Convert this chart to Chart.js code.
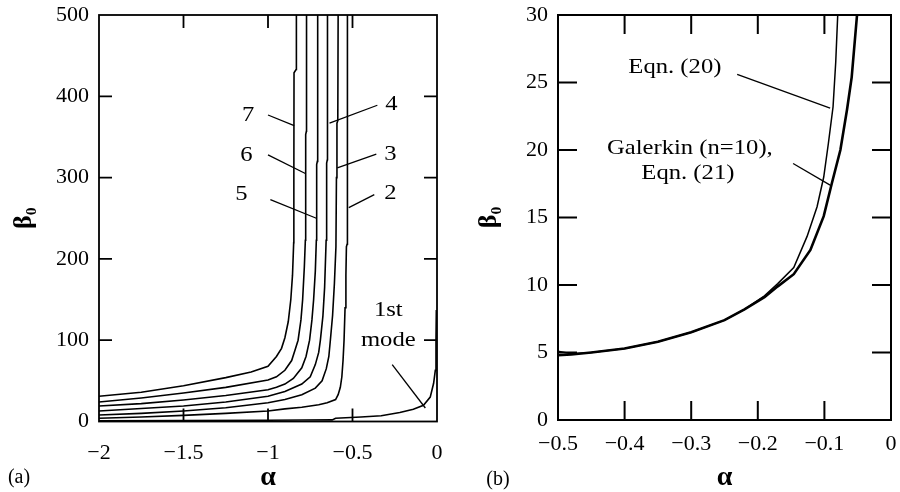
<!DOCTYPE html>
<html>
<head>
<meta charset="utf-8">
<script src="https://cdn.jsdelivr.net/npm/chart.js@4.4.1/dist/chart.umd.min.js"></script>
<style>
  html, body { margin: 0; padding: 0; background: #fff; }
  #wrap { position: relative; width: 900px; height: 492px; overflow: hidden; }
  .panel { position: absolute; top: 0; width: 450px; height: 492px; }
</style>
</head>
<body>
<div id="wrap">
  <div class="panel" style="left:0"><canvas id="panelA" width="450" height="492"></canvas></div>
  <div class="panel" style="left:450px"><canvas id="panelB" width="450" height="492"></canvas></div>
</div>
<script>
// (a) beta0 vs alpha for the first seven modes, [alpha, beta0]
var mode1 = [[-2, 1], [-1.5, 1.2], [-1.0, 1.5], [-0.8, 1.8], [-0.62, 2], [-0.6, 4], [-0.45, 5.5], [-0.33, 7],
  [-0.22, 11], [-0.14, 15], [-0.08, 20], [-0.04, 30], [-0.02, 47], [-0.01, 63], [-0.006, 100], [-0.004, 137]];
var mode2 = [[-2, 4], [-1.75, 5.5], [-1.5, 7.5], [-1.25, 10], [-1.0, 13], [-0.9, 15.5], [-0.8, 17.5], [-0.7, 20.5],
  [-0.65, 23], [-0.6, 27], [-0.585, 33], [-0.572, 42], [-0.563, 55], [-0.556, 75], [-0.55, 100], [-0.544, 140],
  [-0.539, 180], [-0.536, 215], [-0.532, 218], [-0.53, 500]];
var mode3 = [[-2, 8], [-1.75, 10], [-1.5, 13], [-1.25, 17], [-1.0, 23], [-0.9, 27], [-0.8, 33], [-0.72, 41],
  [-0.68, 50], [-0.655, 65], [-0.64, 80], [-0.631, 100], [-0.618, 130], [-0.607, 170], [-0.598, 215],
  [-0.595, 300], [-0.592, 367], [-0.587, 370], [-0.585, 500]];
var mode4 = [[-2, 13], [-1.75, 16], [-1.5, 19], [-1.25, 24], [-1.0, 31], [-0.9, 37], [-0.8, 46], [-0.75, 55],
  [-0.72, 70], [-0.7, 85], [-0.69, 100], [-0.675, 130], [-0.665, 165], [-0.656, 223], [-0.653, 318],
  [-0.649, 322], [-0.648, 500]];
var mode5 = [[-2, 19], [-1.75, 22], [-1.5, 26.5], [-1.25, 32], [-1.0, 39], [-0.95, 42], [-0.9, 46], [-0.85, 53],
  [-0.8, 66], [-0.775, 80], [-0.754, 100], [-0.74, 125], [-0.73, 150], [-0.72, 185], [-0.714, 223],
  [-0.712, 316], [-0.708, 320], [-0.706, 500]];
var mode6 = [[-2, 24], [-1.75, 29], [-1.5, 35], [-1.25, 42], [-1.0, 51], [-0.95, 55], [-0.9, 63], [-0.86, 75],
  [-0.84, 88], [-0.822, 100], [-0.805, 125], [-0.795, 150], [-0.785, 190], [-0.779, 223], [-0.777, 353],
  [-0.773, 357], [-0.772, 500]];
var mode7 = [[-2, 31], [-1.75, 36], [-1.5, 44], [-1.25, 54], [-1.1, 61], [-1.0, 68], [-0.95, 80], [-0.92, 90],
  [-0.9, 103], [-0.88, 123], [-0.865, 150], [-0.855, 180], [-0.848, 220], [-0.847, 300], [-0.846, 429],
  [-0.834, 433], [-0.832, 500]];

// (b) first mode close up: closed form vs Galerkin
var eqn20 = [[-0.5, 5.1], [-0.48, 4.9], [-0.45, 5.0], [-0.4, 5.3], [-0.35, 5.8], [-0.3, 6.5], [-0.25, 7.4],
  [-0.22, 8.2], [-0.19, 9.2], [-0.17, 10.1], [-0.146, 11.3], [-0.126, 13.6], [-0.111, 15.8], [-0.101, 18],
  [-0.094, 20.5], [-0.087, 23.2], [-0.083, 26.5], [-0.08, 30]];
var galerkin = [[-0.5, 4.8], [-0.48, 4.85], [-0.45, 5.0], [-0.4, 5.3], [-0.35, 5.8], [-0.3, 6.5], [-0.25, 7.4],
  [-0.22, 8.2], [-0.19, 9.1], [-0.17, 9.9], [-0.146, 10.8], [-0.121, 12.6], [-0.101, 15.1], [-0.089, 17.5],
  [-0.076, 20], [-0.066, 23], [-0.059, 25.4], [-0.051, 30]];

// tick values
var xTicksA = [-2, -1.5, -1, -0.5, 0];
var yTicksA = [0, 100, 200, 300, 400, 500];
var xTicksB = [-0.5, -0.4, -0.3, -0.2, -0.1, 0];
var yTicksB = [0, 5, 10, 15, 20, 25, 30];

// curve labels with leader lines (data coordinates)
var notesA = [
  { text: '7', at: [-1.117, 377], from: [-1.0, 377], to: [-0.845, 364] },
  { text: '6', at: [-1.128, 328], from: [-1.0, 328], to: [-0.779, 305] },
  { text: '5', at: [-1.158, 280], from: [-0.986, 273], to: [-0.714, 250] },
  { text: '4', at: [-0.27, 390], from: [-0.353, 389], to: [-0.636, 367] },
  { text: '3', at: [-0.276, 329], from: [-0.359, 329], to: [-0.59, 312] },
  { text: '2', at: [-0.276, 281], from: [-0.371, 279], to: [-0.522, 263] },
  { text: '1st', at: [-0.288, 137] },
  { text: 'mode', at: [-0.288, 100], from: [-0.265, 70], to: [-0.069, 16.6] }
];
var notesB = [
  { text: 'Eqn. (20)', at: [-0.3245, 26.1], from: [-0.231, 25.6], to: [-0.0914, 23.1] },
  { text: 'Galerkin (n=10),', at: [-0.302, 20.1] },
  { text: 'Eqn. (21)', at: [-0.305, 18.3], from: [-0.147, 19.0], to: [-0.0914, 17.4] }
];

var SERIF = '"Liberation Serif", "Times New Roman", Times, serif';

function toPoints(arr) {
  return arr.map(function (p) { return { x: p[0], y: p[1] }; });
}

function fmtTick(v) {
  return v === 0 ? '0' : String(v).replace('-', '\u2212');
}

// box around the plot, inward ticks on all sides, curve labels
function makeFrame(cfg) {
  return {
    id: 'frame',
    afterDatasetsDraw: function (chart) {
      var ctx = chart.ctx, a = chart.chartArea;
      var xs = chart.scales.x, ys = chart.scales.y;
      ctx.save();
      ctx.strokeStyle = '#000';
      ctx.lineWidth = cfg.frameWidth;
      ctx.strokeRect(a.left, a.top, a.right - a.left, a.bottom - a.top);

      ctx.beginPath();
      xs.ticks.forEach(function (tk) {
        var px = xs.getPixelForValue(tk.value);
        if (px <= a.left + 1 || px >= a.right - 1) return;
        ctx.moveTo(px, a.bottom); ctx.lineTo(px, a.bottom - cfg.tickLen);
        ctx.moveTo(px, a.top); ctx.lineTo(px, a.top + cfg.tickLen);
      });
      ys.ticks.forEach(function (tk) {
        var py = ys.getPixelForValue(tk.value);
        if (py <= a.top + 1 || py >= a.bottom - 1) return;
        ctx.moveTo(a.left, py); ctx.lineTo(a.left + cfg.tickLen, py);
        ctx.moveTo(a.right, py); ctx.lineTo(a.right - cfg.tickLen, py);
      });
      ctx.stroke();

      ctx.lineWidth = 1.3;
      ctx.fillStyle = '#000';
      ctx.font = cfg.noteSize + 'px ' + SERIF;
      ctx.textAlign = 'center';
      ctx.textBaseline = 'middle';
      cfg.notes.forEach(function (n) {
        if (n.from) {
          ctx.beginPath();
          ctx.moveTo(xs.getPixelForValue(n.from[0]), ys.getPixelForValue(n.from[1]));
          ctx.lineTo(xs.getPixelForValue(n.to[0]), ys.getPixelForValue(n.to[1]));
          ctx.stroke();
        }
        ctx.save();
        ctx.translate(xs.getPixelForValue(n.at[0]), ys.getPixelForValue(n.at[1]));
        ctx.scale(1.12, 1);
        ctx.fillText(n.text, 0, 0);
        ctx.restore();
      });

      ctx.font = '20px ' + SERIF;
      ctx.fillText(cfg.tag, cfg.tagX, cfg.tagY);
      ctx.restore();
    }
  };
}

function makeChart(id, sets, opt) {
  return new Chart(document.getElementById(id), {
    type: 'line',
    data: { datasets: sets },
    options: {
      responsive: false,
      animation: false,
      layout: { padding: { left: 0, top: 15, right: opt.padRight, bottom: 0 } },
      elements: { point: { radius: 0 }, line: { tension: 0 } },
      plugins: { legend: { display: false }, tooltip: { enabled: false } },
      scales: {
        x: {
          type: 'linear', min: opt.xMin, max: opt.xMax,
          afterBuildTicks: function (s) { s.ticks = opt.xTicks.map(function (v) { return { value: v }; }); },
          afterFit: function (s) { s.height = opt.xAxisHeight; s.paddingLeft = 0; s.paddingRight = 0; },
          grid: { display: false, drawTicks: false },
          border: { display: false },
          ticks: { color: '#000', font: { family: SERIF, size: 22 }, padding: opt.xPad,
            maxRotation: 0, autoSkip: false, callback: fmtTick },
          title: { display: true, text: '\u03b1', color: '#000',
            font: { family: SERIF, size: 28, weight: 'bold', lineHeight: 1 }, padding: { top: 0, bottom: 0 } }
        },
        y: {
          type: 'linear', min: opt.yMin, max: opt.yMax,
          afterBuildTicks: function (s) { s.ticks = opt.yTicks.map(function (v) { return { value: v }; }); },
          afterFit: function (s) { s.width = opt.yAxisWidth; s.paddingTop = 0; s.paddingBottom = 0; },
          grid: { display: false, drawTicks: false },
          border: { display: false },
          ticks: { color: '#000', font: { family: SERIF, size: 22 }, padding: 10, autoSkip: false, callback: fmtTick },
          title: { display: true, text: '\u03b2\u2080', color: '#000',
            font: { family: SERIF, size: 26, weight: 'bold', lineHeight: 1 }, padding: { top: opt.yTitlePad, bottom: 0 } }
        }
      }
    },
    plugins: [makeFrame(opt.frame)]
  });
}

function curve(arr, w) {
  return { data: toPoints(arr), borderColor: '#000', borderWidth: w, fill: false };
}

makeChart('panelA',
  [mode1, mode2, mode3, mode4, mode5, mode6, mode7].map(function (m) { return curve(m, 1.6); }),
  {
    xMin: -2, xMax: 0, yMin: 0, yMax: 500, xTicks: xTicksA, yTicks: yTicksA,
    padRight: 13, xAxisHeight: 70.5, yAxisWidth: 99, xPad: 19, yTitlePad: 11,
    frame: { frameWidth: 1.8, tickLen: 13, notes: notesA, noteSize: 22, tag: '(a)', tagX: 19, tagY: 478 }
  });

makeChart('panelB',
  [curve(eqn20, 1.5), curve(galerkin, 2.6)],
  {
    xMin: -0.5, xMax: 0, yMin: 0, yMax: 30, xTicks: xTicksB, yTicks: yTicksB,
    padRight: 9, xAxisHeight: 72, yAxisWidth: 108, xPad: 11, yTitlePad: 26,
    frame: { frameWidth: 2, tickLen: 19, notes: notesB, noteSize: 22, tag: '(b)', tagX: 48, tagY: 480 }
  });
</script>
</body>
</html>
